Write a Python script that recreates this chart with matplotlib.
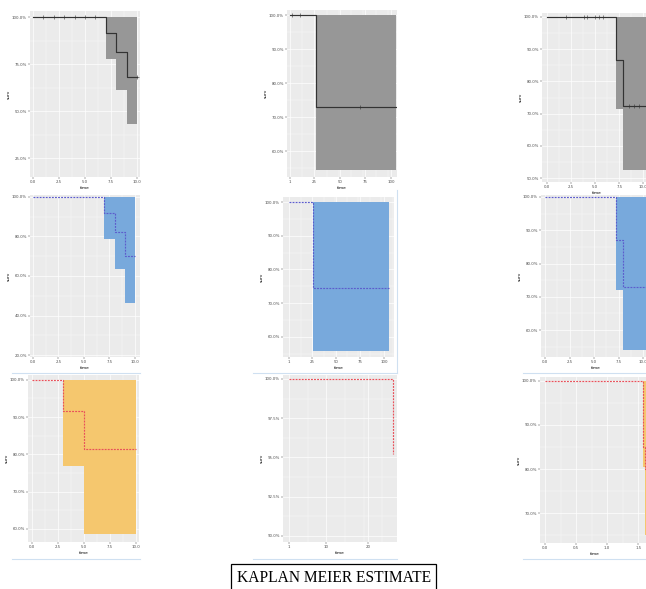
import matplotlib
matplotlib.use("Agg")
import matplotlib.pyplot as plt
from matplotlib.ticker import FixedLocator, AutoMinorLocator
from matplotlib.lines import Line2D
from matplotlib.patches import Rectangle

W, H = 646, 589

# ---- survival data, one block per panel ----
# row 1 (grey)
s1_time = [0, 7, 8, 9, 10]
s1_surv = [100, 91.5, 81.4, 68, 68]
s1_low = [100, 77.7, 61, 43, 43]
s1_cens_t = [1, 2, 3, 4, 5, 6, 10]
s1_cens_s = [100, 100, 100, 100, 100, 100, 68]

s2_time = [1, 26, 105]
s2_surv = [100, 73, 73]
s2_low = [100, 54.4, 54.4]
s2_cens_t = [3, 11, 70]
s2_cens_s = [100, 100, 73]

s3_time = [0, 7.2, 7.9, 11]
s3_surv = [100, 86.6, 72.4, 72.4]
s3_low = [100, 71.4, 52.5, 52.5]
s3_cens_t = [2, 3.8, 4.2, 5, 5.4, 5.8, 8.5, 9, 9.5]
s3_cens_s = [100, 100, 100, 100, 100, 100, 72.4, 72.4, 72.4]

# row 2 (blue)
s4_time = [0, 7, 8, 9, 10]
s4_surv = [100, 92, 82.5, 70, 70]
s4_low = [100, 78.5, 63.5, 46.5, 46.5]

s5_time = [1, 26, 105]
s5_surv = [100, 74.5, 74.5]
s5_low = [100, 55.8, 55.8]

s6_time = [0, 7.24, 7.96, 11]
s6_surv = [100, 87, 73, 73]
s6_low = [100, 72, 54, 54]

# row 3 (orange)
s7_time = [0, 3, 5, 10]
s7_surv = [100, 91.7, 81.5, 81.5]
s7_low = [100, 77, 58.7, 58.7]

s8_time = [1, 26, 26]
s8_surv = [100, 95.2, 95.2]
s8_low = [100, 100, 100]

s9_time = [0, 1.58, 1.61, 1.75]
s9_surv = [100, 85, 80, 80]
s9_low = [100, 80.5, 65, 65]

# tick labels
xt_a = [0, 2.5, 5, 7.5, 10]
xl_a = ["0.0", "2.5", "5.0", "7.5", "10.0"]
xt_b = [1, 25, 50, 75, 100]
xl_b = ["1", "25", "50", "75", "100"]
xt_c = [1, 10, 20]
xl_c = ["1", "10", "20"]
xt_d = [0, 0.5, 1, 1.5]
xl_d = ["0.0", "0.5", "1.0", "1.5"]

fig = plt.figure(figsize=(W / 100, H / 100), dpi=100)


def px_axes(x0, y0, x1, y1):
    return fig.add_axes([x0 / W, 1 - y1 / H, (x1 - x0) / W, (y1 - y0) / H])


def km_panel(box, t, s, lo, xlim, ylim, xt, xl, yt, fill, line, ls,
             cens_t=None, cens_s=None):
    ax = px_axes(*box)
    ax.set_facecolor("#EBEBEB")
    for sp in ax.spines.values():
        sp.set_visible(False)
    ax.fill_between(t, lo, [100] * len(t), step="post", color=fill,
                    linewidth=0, zorder=2)
    ax.step(t, s, where="post", color=line, lw=0.85, ls=ls, zorder=3)
    if cens_t is not None:
        ax.plot(cens_t, cens_s, ls="none", marker="+", ms=2.2, mew=0.4,
                color=line, zorder=4)
    ax.set_xlim(*xlim)
    ax.set_ylim(*ylim)
    ax.xaxis.set_major_locator(FixedLocator(xt))
    ax.set_xticklabels(xl)
    ax.yaxis.set_major_locator(FixedLocator(yt))
    ax.set_yticklabels(["%.1f%%" % v for v in yt])
    ax.xaxis.set_minor_locator(AutoMinorLocator(2))
    ax.yaxis.set_minor_locator(AutoMinorLocator(2))
    ax.grid(True, which="major", color="white", lw=0.5, zorder=0)
    ax.grid(True, which="minor", color="white", lw=0.25, zorder=0)
    ax.set_axisbelow(True)
    ax.tick_params(which="major", length=1.5, width=0.3, color="#333333",
                   labelsize=2.8, labelcolor="#4d4d4d", pad=0.8)
    ax.tick_params(which="minor", length=0)
    ax.set_xlabel("time", fontsize=3.2, labelpad=1)
    ax.set_ylabel("surv", fontsize=3.2, labelpad=1)
    return ax


grey_f, grey_l = "#979797", "#333333"
blue_f, blue_l = "#78a9dc", "#5c5ccc"
org_f, org_l = "#f5c76e", "#e8505a"
dots = (0, (1.6, 1.0))

km_panel((30, 11, 140, 177), s1_time, s1_surv, s1_low, (-0.29, 10.29),
         (14.9, 103.2), xt_a, xl_a, [25, 50, 75, 100], grey_f, grey_l, "-",
         s1_cens_t, s1_cens_s)
km_panel((287, 10, 397, 177), s2_time, s2_surv, s2_low, (-2, 106),
         (52.4, 101.5), xt_b, xl_b, [60, 70, 80, 90, 100], grey_f, grey_l, "-",
         s2_cens_t, s2_cens_s)
km_panel((542, 13, 652, 182), s3_time, s3_surv, s3_low, (-0.52, 10.9),
         (48.8, 101.2), xt_a, xl_a, [50, 60, 70, 80, 90, 100], grey_f, grey_l,
         "-", s3_cens_t, s3_cens_s)

km_panel((30, 195, 140, 357), s4_time, s4_surv, s4_low, (-0.29, 10.49),
         (19, 101), xt_a, xl_a, [20, 40, 60, 80, 100], blue_f, blue_l, dots)
km_panel((283, 197, 394, 357), s5_time, s5_surv, s5_low, (-5.2, 110),
         (54, 101.5), xt_b, xl_b, [60, 70, 80, 90, 100], blue_f, blue_l, dots)
km_panel((541, 195, 651, 357), s6_time, s6_surv, s6_low, (-0.41, 10.8),
         (51.9, 100.6), xt_a, xl_a, [60, 70, 80, 90, 100], blue_f, blue_l,
         dots)

km_panel((28, 375, 139, 542), s7_time, s7_surv, s7_low, (-0.38, 10.3),
         (56.5, 101.3), xt_a, xl_a, [60, 70, 80, 90, 100], org_f, org_l, dots)
km_panel((283, 375, 397, 542), s8_time, s8_surv, s8_low, (-0.4, 27),
         (89.6, 100.25), xt_c, xl_c, [90, 92.5, 95, 97.5, 100], org_f, org_l,
         dots)
km_panel((540, 377, 650, 543), s9_time, s9_surv, s9_low, (-0.08, 1.69),
         (63.2, 100.9), xt_d, xl_d, [70, 80, 90, 100], org_f, org_l, dots)

# frame lines around the embedded images
edge = "#cfe0f1"
for x0, x1 in [(12, 140), (253, 397), (523, 646)]:
    for y in (373, 559):
        fig.add_artist(Line2D([x0 / W, x1 / W], [1 - y / H, 1 - y / H],
                              color=edge, lw=0.8))
fig.add_artist(Line2D([397 / W, 397 / W], [1 - 190 / H, 1 - 373 / H],
                      color=edge, lw=0.8))

# caption box
fig.add_artist(Rectangle((231 / W, 1 - 600 / H), 205 / W, 36 / H,
                         transform=fig.transFigure, fill=False,
                         edgecolor="black", lw=0.9))
fig.text(334 / W, 1 - 578.5 / H, "KAPLAN MEIER ESTIMATE",
         family="Liberation Serif", fontsize=11.2, ha="center", va="center")

fig.savefig("out.png", dpi=100)
